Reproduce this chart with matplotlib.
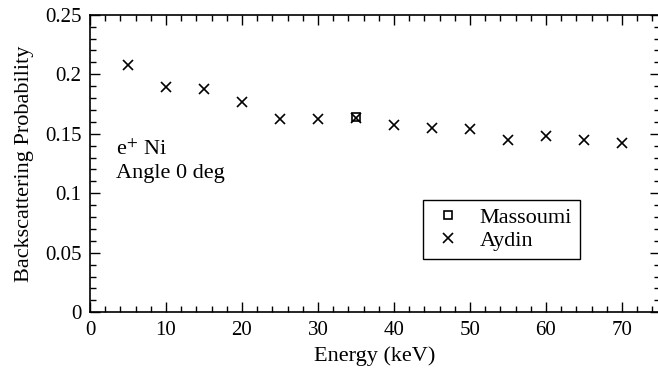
import numpy as np
import matplotlib
matplotlib.use('Agg')
import matplotlib.pyplot as plt
from matplotlib.ticker import MultipleLocator

plt.rcParams['font.family'] = ['Liberation Serif', 'DejaVu Serif']
plt.rcParams['mathtext.fontset'] = 'stix'

# data
energy_aydin = [5, 10, 15, 20, 25, 30, 35, 40, 45, 50, 55, 60, 65, 70]
prob_aydin = [0.208, 0.1895, 0.1876, 0.1767, 0.1621, 0.162, 0.1635,
              0.1573, 0.1545, 0.1537, 0.1447, 0.148, 0.1447, 0.142]
energy_massoumi = [35]
prob_massoumi = [0.164]

fig = plt.figure(figsize=(6.58, 3.69), dpi=100)
ax = fig.add_axes([90 / 658, 56.7 / 369, 570 / 658, 297.6 / 369])

ax.plot(energy_massoumi, prob_massoumi, linestyle='none', marker='s', ms=6,
        mfc='none', mec='black', mew=1.2, label='Massoumi')
ax.plot(energy_aydin, prob_aydin, linestyle='none', marker='x', ms=7.5,
        color='black', mew=1.2, label='Aydin')

ax.set_xlim(0, 75)
ax.set_ylim(0, 0.25)
ax.xaxis.set_major_locator(MultipleLocator(10))
ax.xaxis.set_minor_locator(MultipleLocator(2))
ax.yaxis.set_minor_locator(MultipleLocator(0.01))
ax.set_yticks([0, 0.05, 0.1, 0.15, 0.2, 0.25])
ax.set_yticklabels(['0', '0.05', '0.1', '0.15', '0.2', '0.25'])
ax.tick_params(which='both', direction='in', top=True, right=True,
               labelsize=15, width=1.0)
ax.tick_params(which='major', length=7, pad=6)
ax.tick_params(which='minor', length=4)
for s in ax.spines.values():
    s.set_linewidth(1.2)

ax.set_xlabel('Energy (keV)', fontsize=16, labelpad=5)
ax.set_ylabel('Backscattering Probability', fontsize=16, labelpad=8)

ax.text(0.045, 0.53, r'e$^{+}$ Ni', transform=ax.transAxes, fontsize=16)
ax.text(0.045, 0.45, 'Angle 0 deg', transform=ax.transAxes, fontsize=16)

leg = ax.legend(loc='lower left', bbox_to_anchor=(0.584, 0.18),
                borderaxespad=0, fontsize=16, frameon=True, fancybox=False,
                edgecolor='black', framealpha=1, handlelength=1.6,
                handletextpad=0.6, borderpad=0.35, labelspacing=0.1)
leg.get_frame().set_linewidth(1.0)

fig.savefig('out.png', dpi=100)
